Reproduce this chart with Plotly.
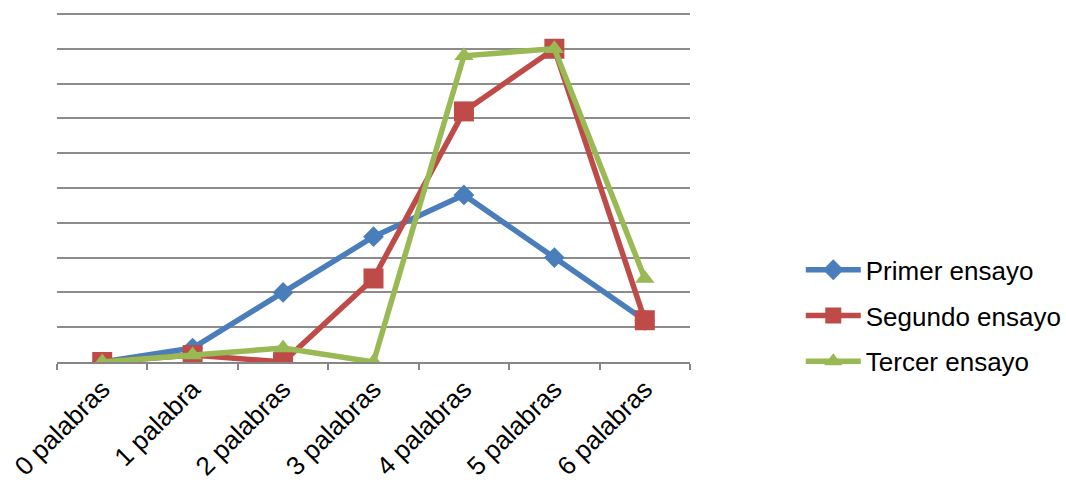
import plotly.graph_objects as go

categorias = ["0 palabras", "1 palabra", "2 palabras", "3 palabras",
              "4 palabras", "5 palabras", "6 palabras"]
primer_ensayo = [0, 2, 10, 18, 24, 15, 6]
segundo_ensayo = [0, 1, 0, 12, 36, 45, 6]
tercer_ensayo = [0, 1, 2, 0, 44, 45, 12]

series = [
    ("Primer ensayo", primer_ensayo, "#4A7EBB", "diamond", 16),
    ("Segundo ensayo", segundo_ensayo, "#BE4B48", "square", 20),
    ("Tercer ensayo", tercer_ensayo, "#98B954", "triangle-up", 17),
]

fig = go.Figure()
for i, (nombre, valores, color, simbolo, tam) in enumerate(series):
    fig.add_trace(go.Scatter(
        x=categorias, y=valores, name=nombre, mode="lines+markers",
        line=dict(color=color, width=5.5),
        marker=dict(symbol=simbolo, size=tam, color=color),
        legendgroup=f"g{i}",
    ))

fig.update_layout(
    width=1066, height=482,
    margin=dict(l=57, r=376, t=7, b=120, autoexpand=False),
    paper_bgcolor="white", plot_bgcolor="white",
    font=dict(family="Liberation Sans, Arial, sans-serif", size=26, color="black"),
    showlegend=True,
    legend=dict(x=1.175, xanchor="left", y=0.13, yanchor="middle",
                traceorder="grouped", tracegroupgap=9,
                font=dict(size=26), itemwidth=55),
    xaxis=dict(
        type="category", tickangle=-45, tickson="boundaries",
        ticks="outside", ticklen=6, tickcolor="#868686", tickwidth=1.5,
        showline=True, linecolor="#868686", linewidth=1.5,
        showgrid=False, range=[-0.5, 6.5], automargin=False,
        ticklabelstandoff=0, tickfont=dict(size=26),
    ),
    yaxis=dict(
        range=[0, 51], dtick=5, showticklabels=False,
        showgrid=True, gridcolor="#8C8C8C", gridwidth=1.5,
        zeroline=False, showline=False, ticks="", automargin=False,
    ),
)

fig.write_html("out.html")
